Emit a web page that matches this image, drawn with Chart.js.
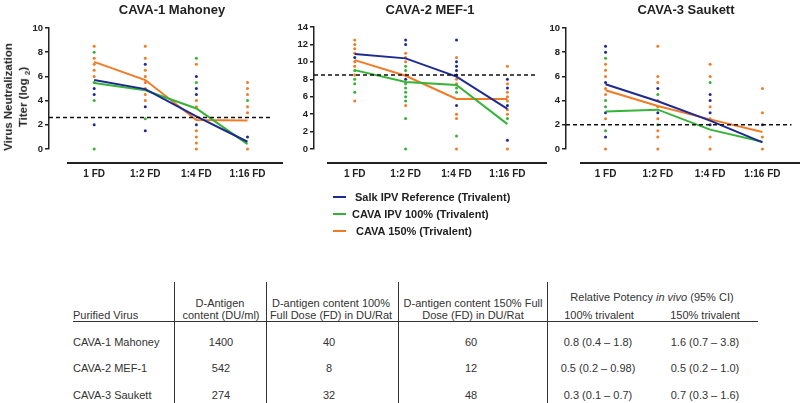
<!DOCTYPE html>
<html>
<head>
<meta charset="utf-8">
<script src="https://cdn.jsdelivr.net/npm/chart.js@4.4.1/dist/chart.umd.min.js"></script>
<style>
  body { margin: 0; width: 800px; height: 403px; background: #fff; position: relative; overflow: hidden;
         font-family: "Liberation Sans", Arial, sans-serif; color: #222; }
  canvas { position: absolute; top: 0; }
  .t { position: absolute; white-space: nowrap; transform: translate(-50%, -50%); }
  .l { position: absolute; white-space: nowrap; transform: translate(0, -50%); }
  .ttl { font-weight: bold; font-size: 13px; }
  .ytitle { position: absolute; left: 18px; top: 97px; transform: translate(-50%, -50%) rotate(-90deg);
            font-weight: bold; font-size: 11.5px; line-height: 15px; text-align: center; white-space: nowrap; }
  .leg { font-weight: bold; font-size: 11px; }
  .sw { position: absolute; width: 13px; height: 2px; }
  .xl { position: absolute; height: 2px; background: #222; }
  .tab { font-size: 11px; color: #333; }
  .vl { position: absolute; width: 1px; background: #333; height: 121px; }
  .hl { position: absolute; height: 1px; background: #333; width: 685px; }
</style>
</head>
<body>
<canvas id="c1" width="285" height="185" style="left:0px"></canvas>
<canvas id="c2" width="280" height="185" style="left:265px"></canvas>
<canvas id="c3" width="270" height="185" style="left:530px"></canvas>

<div class="ytitle">Virus Neutralization<br>Titer (log <sub style="font-size:8px">2</sub>)</div>
<div id="extras"></div>

<script>
const categories = ['1 FD', '1:2 FD', '1:4 FD', '1:16 FD'];
const seriesNames = ['Salk IPV Reference (Trivalent)', 'CAVA IPV 100% (Trivalent)', 'CAVA 150% (Trivalent)'];
const seriesColors = ['#1d2a94', '#36b336', '#f27a25'];
const chartTitles = ['CAVA-1 Mahoney', 'CAVA-2 MEF-1', 'CAVA-3 Saukett'];

// group means (lines), one value per category
const mahoneySalk = [5.7, 4.95, 2.7, 0.6];
const mahoney100 = [5.45, 4.85, 3.35, 0.4];
const mahoney150 = [7.2, 5.7, 2.4, 2.35];
const mefSalk = [10.9, 10.4, 8.3, 4.6];
const mef100 = [9.05, 7.7, 7.35, 2.85];
const mef150 = [10.2, 8.4, 5.75, 5.75];
const saukettSalk = [5.35, 3.95, 2.35, 0.55];
const saukett100 = [3.1, 3.25, 1.6, 0.6];
const saukett150 = [4.85, 3.55, 2.45, 1.4];

// individual rats, per category
const mahoneyDotsSalk = [[5, 4.5, 2], [7, 3.5, 1.5], [6, 5, 4.5, 2], [1]];
const mahoneyDots100 = [[8, 5.5, 4, 0], [2.5], [7.5, 5.5], [4]];
const mahoneyDots150 = [[8.5, 7.5, 7, 6.5, 6], [8.5, 7.5, 6.5, 6, 5.5, 5, 4.5, 4], [7, 4, 3.5, 1.5, 1, 0.5, 0], [5.5, 5, 4.5, 3.5, 3, 0]];
const mefDotsSalk = [[10.5], [12.5, 12, 8], [12.5, 10, 9.5, 9, 8.5, 5], [8, 7, 5, 1]];
const mefDots100 = [[9, 8, 7.5, 6.5], [9.5, 9, 7.5, 7, 6.5, 6, 5.5, 3.5, 0], [7, 6.5, 1.5], [3.5]];
const mefDots150 = [[12.5, 12, 11.5, 11, 10, 9.5, 8.5, 5.5], [11, 10.5, 10, 8.5, 5], [10.5, 8, 7.5, 4, 3.5, 0], [9.5, 7.5, 6.5, 6, 5.5, 4.5, 4, 0]];
const saukettDotsSalk = [[8.5, 8, 5.5, 3, 1], [5, 3], [4.5, 4, 3, 2], [2]];
const saukettDots100 = [[7.5, 4, 3.5, 1.5], [4.5, 2], [5.5], []];
const saukettDots150 = [[7, 6.5, 6, 5, 4.5, 2.5, 0], [8.5, 6, 5.5, 4, 3.5, 2.5, 1.5, 1, 0], [7, 6, 3.5, 2.5, 1, 0], [5, 3, 1, 0]];

// detection cut-off (dashed line)
const cutoffs = [2.6, 8.5, 2.0];

// table
const tableVirus = ['CAVA-1 Mahoney', 'CAVA-2 MEF-1', 'CAVA-3 Saukett'];
const tableDAntigen = ['1400', '542', '274'];
const tableDose100 = ['40', '8', '32'];
const tableDose150 = ['60', '12', '48'];
const tablePotency100 = ['0.8 (0.4 \u2013 1.8)', '0.5 (0.2 \u2013 0.98)', '0.3 (0.1 \u2013 0.7)'];
const tablePotency150 = ['1.6 (0.7 \u2013 3.8)', '0.5 (0.2 \u2013 1.0)', '0.7 (0.3 \u2013 1.6)'];

Chart.defaults.font.family = '"Liberation Sans", Arial, sans-serif';
Chart.defaults.color = '#222';

const extras = document.getElementById('extras');
function put(cls, text, x, y, html) {
  const d = document.createElement('div');
  d.className = cls;
  d.style.left = x + 'px';
  d.style.top = y + 'px';
  if (html) d.innerHTML = text; else d.textContent = text;
  extras.appendChild(d);
  return d;
}

function toPoints(vals) {
  return vals.map((v, i) => ({x: i, y: v}));
}
function toDots(perCat) {
  const out = [];
  perCat.forEach((vals, i) => vals.forEach(v => out.push({x: i, y: v})));
  return out;
}

function makeChart(id, o) {
  const datasets = [];
  o.means.forEach((m, s) => {
    datasets.push({
      type: 'line', data: toPoints(m), borderColor: seriesColors[s], borderWidth: 2,
      pointRadius: 0, tension: 0, order: 1, clip: false
    });
  });
  o.dots.forEach((d, s) => {
    datasets.push({
      type: 'scatter', data: toDots(d), backgroundColor: seriesColors[s], borderWidth: 0,
      pointRadius: 1.5, order: 2, clip: false
    });
  });
  datasets.push({
    type: 'line', data: [{x: o.xMin, y: o.cutoff}, {x: o.xMax, y: o.cutoff}],
    borderColor: '#111', borderWidth: 1.4, borderDash: [4, 3], pointRadius: 0, order: 0
  });

  const canvas = document.getElementById(id);
  const chart = new Chart(canvas, {
    type: 'scatter',
    data: {datasets},
    options: {
      responsive: false,
      animation: false,
      devicePixelRatio: 1,
      layout: {padding: {top: o.top, left: 0, right: 0, bottom: 0}},
      plugins: {legend: {display: false}, tooltip: {enabled: false}},
      scales: {
        x: {
          type: 'linear', min: o.xMin, max: o.xMax,
          afterBuildTicks: s => { s.ticks = categories.map((c, i) => ({value: i})) },
          afterFit: s => { s.height = 36 },
          grid: {display: false, drawTicks: false},
          border: {display: false},
          ticks: {
            callback: v => categories[v], autoSkip: false, maxRotation: 0, padding: 19,
            font: {size: 10, weight: 'bold'}, color: '#222'
          }
        },
        y: {
          min: 0, max: o.yMax,
          afterBuildTicks: s => { s.ticks = o.yTicks.map(v => ({value: v})) },
          afterFit: s => { s.width = o.yWidth },
          grid: {display: true, drawOnChartArea: false, drawTicks: true, tickLength: 4, color: '#222', lineWidth: 1.5},
          border: {display: true, color: '#222', width: 1.5},
          ticks: {padding: 2, font: {size: 9.5, weight: 'bold'}, color: '#222'}
        }
      }
    }
  });

  // detached x axis line (prism style), placed from the chart's own layout
  const area = chart.chartArea || {left: o.yWidth, right: canvas.width - 14, bottom: 149};
  const lineW = Math.max(10, Math.round(area.right + 12 - area.left - o.gap));
  const line = put('xl', '', canvas.offsetLeft + area.left + o.gap, Math.round(area.bottom + 13));
  line.style.width = lineW + 'px';
  return chart;
}

makeChart('c1', {
  means: [mahoneySalk, mahoney100, mahoney150],
  dots: [mahoneyDotsSalk, mahoneyDots100, mahoneyDots150],
  cutoff: cutoffs[0], yMax: 10, yTicks: [0, 2, 4, 6, 8, 10],
  xMin: -0.884, xMax: 3.46, yWidth: 49, top: 28, gap: 18
});
makeChart('c2', {
  means: [mefSalk, mef100, mef150],
  dots: [mefDotsSalk, mefDots100, mefDots150],
  cutoff: cutoffs[1], yMax: 14, yTicks: [0, 2, 4, 6, 8, 10, 12, 14],
  xMin: -0.80, xMax: 3.55, yWidth: 49, top: 27, gap: 13
});
makeChart('c3', {
  means: [saukettSalk, saukett100, saukett150],
  dots: [saukettDotsSalk, saukettDots100, saukettDots150],
  cutoff: cutoffs[2], yMax: 10, yTicks: [0, 2, 4, 6, 8, 10],
  xMin: -0.756, xMax: 3.56, yWidth: 36, top: 28, gap: 14
});

// titles, legend and table as html text
const titleX = [172, 430, 686];
chartTitles.forEach((t, i) => put('t ttl', t, titleX[i], 9));

const legY = [197, 214, 231];
const legX = [355, 352, 356];
seriesNames.forEach((n, i) => {
  const sw = put('sw', '', 333, legY[i] - 1);
  sw.style.background = seriesColors[i];
  put('l leg', n, legX[i], legY[i]);
});

// table
[174, 266, 398, 547].forEach(x => put('vl', '', x, 282));
put('hl', '', 73, 321);

put('l tab', 'Purified Virus', 73, 315);
put('t tab', 'D-Antigen', 220, 303);
put('t tab', 'content (DU/ml)', 221, 315);
put('t tab', 'D-antigen content 100%', 331, 303);
put('t tab', 'Full Dose (FD) in DU/Rat', 331, 315);
put('t tab', 'D-antigen content 150% Full', 473, 303);
put('t tab', 'Dose (FD) in DU/Rat', 473, 315);
put('t tab', 'Relative Potency <i>in vivo</i> (95% CI)', 652, 297, true);
put('t tab', '100% trivalent', 599, 315);
put('t tab', '150% trivalent', 705, 315);

const rowY = [342, 368, 395];
tableVirus.forEach((v, r) => {
  put('l tab', v, 73, rowY[r]);
  put('t tab', tableDAntigen[r], 221, rowY[r]);
  put('t tab', tableDose100[r], 329, rowY[r]);
  put('t tab', tableDose150[r], 471, rowY[r]);
  put('t tab', tablePotency100[r], 598, rowY[r]);
  put('t tab', tablePotency150[r], 705, rowY[r]);
});
</script>
</body>
</html>
